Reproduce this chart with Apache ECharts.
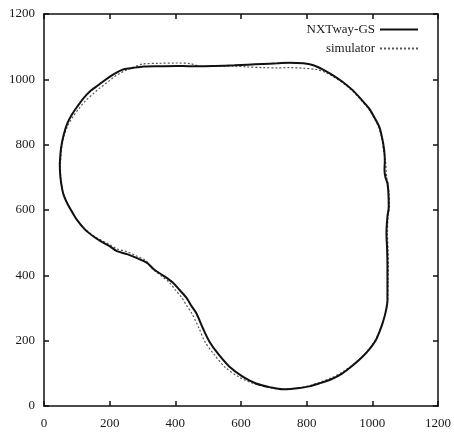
<!DOCTYPE html>
<html>
<head>
<meta charset="utf-8">
<script src="https://cdn.jsdelivr.net/npm/echarts@6/dist/echarts.min.js"></script>
<style>
  html, body { margin: 0; padding: 0; background: #fff; }
  #main { width: 454px; height: 435px; }
</style>
</head>
<body>
<div id="main"></div>
<script>
// tick values for both axes
const ticks = [0, 200, 400, 600, 800, 1000, 1200]

// measured track of the real robot, [x, y], clockwise from the left side
const nxtPath = [
  [48, 740], [52, 790], [60, 830], [71, 865], [85, 892], [101, 916], [120, 942],
  [142, 965], [165, 982], [182, 995], [203, 1010], [225, 1023], [243, 1031],
  [270, 1035], [304, 1039], [350, 1040], [405, 1041], [440, 1040], [476, 1040],
  [520, 1041], [580, 1043], [620, 1045], [666, 1047], [710, 1049], [747, 1051],
  [790, 1049], [818, 1044], [850, 1030], [879, 1013], [910, 992], [940, 967],
  [965, 940], [990, 911], [1006, 884], [1021, 855], [1030, 820], [1036, 784],
  [1038, 750], [1037, 722], [1040, 700], [1046, 682], [1049, 650], [1050, 610],
  [1046, 580], [1043, 529], [1045, 480], [1046, 427], [1046, 380], [1046, 324],
  [1040, 285], [1031, 253], [1022, 228], [1011, 202], [992, 175], [970, 151],
  [940, 124], [909, 100], [875, 82], [838, 69], [808, 60], [778, 55], [750, 52],
  [727, 51], [690, 57], [646, 69], [605, 90], [565, 120], [530, 160], [504, 197],
  [484, 238], [464, 284], [450, 305], [434, 331], [413, 355], [392, 378],
  [362, 400], [335, 418], [314, 438], [280, 454], [253, 465], [222, 474],
  [203, 487], [175, 503], [152, 518], [125, 540], [101, 569], [85, 595],
  [71, 620], [62, 640], [56, 661], [50, 700], [48, 740]
]

// simulated track, [x, y]
const simPath = [
  [50, 740], [54, 790], [62, 830], [74, 862], [90, 888], [106, 910], [126, 934],
  [150, 956], [172, 975], [192, 990], [212, 1006], [232, 1019], [255, 1030],
  [280, 1040], [300, 1047], [350, 1049], [405, 1050], [446, 1048], [476, 1040],
  [520, 1040], [580, 1040], [620, 1038], [666, 1036], [710, 1035], [747, 1036],
  [790, 1034], [830, 1030], [860, 1020], [885, 1006], [912, 988], [942, 962],
  [966, 936], [990, 907], [1006, 880], [1020, 852], [1029, 818], [1034, 784],
  [1040, 752], [1042, 722], [1044, 700], [1048, 680], [1051, 650], [1052, 610],
  [1048, 580], [1046, 529], [1048, 480], [1049, 427], [1048, 380], [1047, 324],
  [1040, 285], [1031, 253], [1020, 225], [1008, 200], [990, 174], [968, 150],
  [940, 126], [909, 104], [875, 86], [838, 72], [808, 62], [778, 56], [750, 52],
  [727, 52], [690, 56], [640, 68], [595, 88], [552, 118], [518, 158], [490, 197],
  [472, 238], [450, 284], [436, 305], [420, 331], [400, 355], [382, 378],
  [355, 400], [330, 420], [310, 445], [280, 460], [253, 472], [222, 481],
  [203, 492], [175, 507], [152, 520], [125, 542], [101, 569], [85, 595],
  [71, 620], [62, 640], [56, 661], [51, 700], [50, 740]
]

const seriesNames = ['NXTway-GS', 'simulator']

const font = { fontFamily: 'Liberation Serif', fontSize: 13, color: '#1a1a1a' }
const axisLine = { show: true, onZero: false, lineStyle: { color: '#111', width: 1.5 } }
const axisTick = { show: true, inside: true, length: 5, lineStyle: { color: '#111', width: 1.5 } }

function makeAxis (pos, labels) {
  return {
    type: 'value',
    position: pos,
    min: ticks[0],
    max: ticks[ticks.length - 1],
    interval: ticks[1] - ticks[0],
    axisLine: axisLine,
    axisTick: axisTick,
    splitLine: { show: false },
    axisLabel: labels
      ? Object.assign({ margin: pos === 'bottom' ? 11 : 9, formatter: v => String(v) }, font)
      : { show: false }
  }
}

const chart = echarts.init(document.getElementById('main'))
chart.setOption({
  animation: false,
  backgroundColor: '#fff',
  color: ['#111', '#555'],
  grid: { left: 44, right: 15, top: 14, bottom: 29 },
  legend: {
    orient: 'vertical',
    right: 30,
    top: 18,
    align: 'right',
    itemWidth: 38,
    itemHeight: 10,
    itemGap: 6,
    itemStyle: { opacity: 0 },
    textStyle: font,
    data: seriesNames
  },
  xAxis: [makeAxis('bottom', true), makeAxis('top', false)],
  yAxis: [makeAxis('left', true), makeAxis('right', false)],
  series: [
    {
      name: seriesNames[1],
      type: 'line',
      data: simPath,
      symbol: 'none',
      smooth: 0.3,
      itemStyle: { color: '#555' },
      lineStyle: { color: '#555', width: 1.2, type: [2, 2] }
    },
    {
      name: seriesNames[0],
      type: 'line',
      data: nxtPath,
      symbol: 'none',
      smooth: 0.3,
      itemStyle: { color: '#111' },
      lineStyle: { color: '#111', width: 2 }
    }
  ]
})
</script>
</body>
</html>
